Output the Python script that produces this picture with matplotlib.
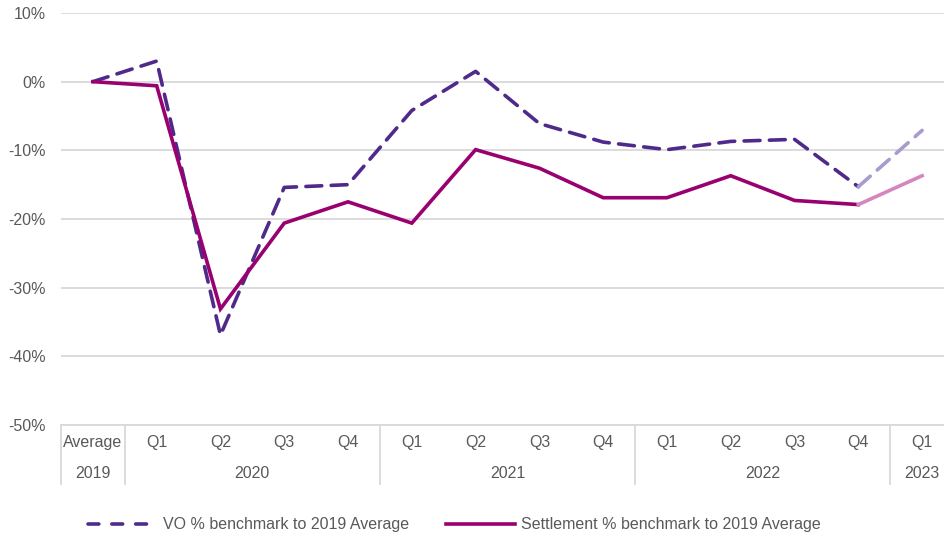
import matplotlib
matplotlib.use("Agg")
import matplotlib.pyplot as plt
from matplotlib.lines import Line2D
import matplotlib.transforms as mtransforms

plt.rcParams['font.family'] = ['Liberation Sans', 'DejaVu Sans']

# Period labels: quarter row and year row
quarters = ["Average", "Q1", "Q2", "Q3", "Q4", "Q1", "Q2", "Q3", "Q4",
            "Q1", "Q2", "Q3", "Q4", "Q1"]
years = ["2019", "2020", "2021", "2022", "2023"]
year_spans = [(0, 0), (1, 4), (5, 8), (9, 12), (13, 13)]

# Percentage change against the 2019 average
vo_pct = [0.0, 3.0, -36.9, -15.4, -15.0, -4.2, 1.5, -6.1, -8.8,
          -9.9, -8.7, -8.4, -15.3, -7.1]
settlement_pct = [0.0, -0.6, -33.1, -20.6, -17.5, -20.6, -9.9, -12.6, -16.9,
                  -16.9, -13.7, -17.3, -17.9, -13.7]

vo_label = "VO % benchmark to 2019 Average"
settlement_label = "Settlement % benchmark to 2019 Average"

vo_color = "#4F2A8A"
vo_light = "#A99BCF"
set_color = "#990070"
set_light = "#D486BE"
grid_color = "#D9D9D9"
text_color = "#595959"
fs = 11.5

W, H = 944, 534
fig = plt.figure(figsize=(W / 100, H / 100), dpi=100)
left_px, right_px, top_px, bottom_px = 61, 954, 13, 425
ax = fig.add_axes([left_px / W, 1 - bottom_px / H,
                   (right_px - left_px) / W, (bottom_px - top_px) / H])

x = list(range(len(quarters)))
n_actual = len(quarters) - 1  # last point is the forecast segment

dash = (4.4, 2.6)
ax.plot(x[:n_actual], vo_pct[:n_actual], color=vo_color, lw=2.6,
        linestyle=(0, dash), dash_capstyle='round', zorder=3)
ax.plot(x[n_actual - 1:], vo_pct[n_actual - 1:], color=vo_light, lw=2.6,
        linestyle=(0, dash), dash_capstyle='round', zorder=3)
ax.plot(x[:n_actual], settlement_pct[:n_actual], color=set_color, lw=2.6,
        solid_joinstyle='miter', zorder=4)
ax.plot(x[n_actual - 1:], settlement_pct[n_actual - 1:], color=set_light,
        lw=2.6, zorder=4)

ax.set_xlim(-0.5, len(quarters) - 0.5)
ax.set_ylim(-50, 10)
ax.set_yticks(range(-50, 11, 10))
ax.set_yticklabels([f"{v}%" for v in range(-50, 11, 10)])
ax.yaxis.grid(True, color=grid_color, lw=1.3)
ax.set_axisbelow(True)
ax.tick_params(axis='y', length=0, pad=11, labelsize=fs, labelcolor=text_color)
ax.set_xticks([])
for s in ["top", "right", "left"]:
    ax.spines[s].set_visible(False)
ax.spines["bottom"].set_color(grid_color)
ax.spines["bottom"].set_linewidth(1.3)

# Two-level category axis
trans = mtransforms.blended_transform_factory(ax.transData, fig.transFigure)
y_q = 1 - 443 / H
y_y = 1 - 473 / H
y_sep_top = 1 - bottom_px / H
y_sep_bot = 1 - 484 / H
for xi, q in zip(x, quarters):
    fig.text(xi, y_q, q, transform=trans, ha='center', va='center',
             fontsize=fs, color=text_color)
for (a, b), yr in zip(year_spans, years):
    fig.text((a + b) / 2, y_y, yr, transform=trans, ha='center', va='center',
             fontsize=fs, color=text_color)
for a, b in year_spans:
    fig.add_artist(Line2D([a - 0.5, a - 0.5], [y_sep_bot, y_sep_top],
                          transform=trans, color=grid_color, lw=1.3))

# Legend
y_leg = 1 - 524 / H
fig.add_artist(Line2D([88 / W, 158 / W], [y_leg, y_leg], color=vo_color,
                      lw=2.6, linestyle=(0, (3.0, 3.6)),
                      dash_capstyle='round'))
fig.text(163 / W, y_leg, vo_label, ha='left', va='center', fontsize=fs,
         color=text_color)
fig.add_artist(Line2D([446 / W, 515 / W], [y_leg, y_leg], color=set_color,
                      lw=2.6))
fig.text(521 / W, y_leg, settlement_label, ha='left', va='center',
         fontsize=fs, color=text_color)

fig.savefig("out.png", dpi=100)
